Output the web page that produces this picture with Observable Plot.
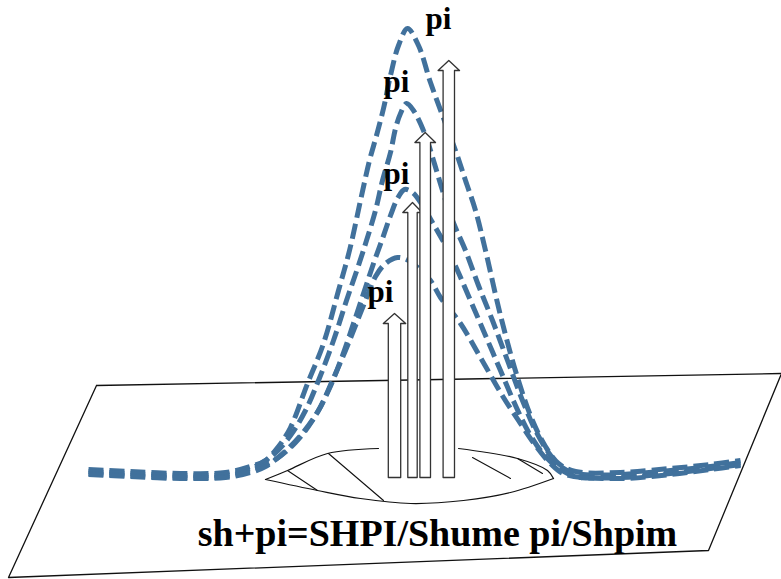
<!DOCTYPE html>
<html><head><meta charset="utf-8">
<script src="https://cdn.jsdelivr.net/npm/d3@7"></script>
<script src="https://cdn.jsdelivr.net/npm/@observablehq/plot@0.6"></script>
<style>html,body{margin:0;padding:0;background:#fff}</style>
</head><body><div id="chart"></div>
<script>
// Picture-space readings (x to the right, y downward)
const planeCorners = [[96,385],[781,373],[708,550],[8,577],[96,385]];

const lensTopLeft  = [[265,479],[287,470],[327,453],[378,448]];
const lensTopRight = [[458,448],[517,458],[547,470],[553,478]];
const lensBottom   = [[265,479],[317,490],[360,498],[410,503],[463,500],[510,492],[553,478]];
const lensSpokes   = [[[287,470],[317,490]], [[328,453],[383,500]], [[472,457],[510,478]], [[517,458],[542,473]]];

const curveA = [[88,469],[130,471],[180,473],[225,472],[250,466],[265,460],[278,446],[290,427],[307,383],[323,343],[338,290],[349,250],[360,200],[369,160],[376,135],[383,108],[390,75],[398,45],[407,28],[418,45],[430,82],[442,115],[455,150],[465,180],[475,210],[485,250],[500,315],[517,377],[532,420],[545,446],[558,463],[575,471],[620,472],[670,468],[710,464],[740,460]];
const curveB = [[88,471],[130,473],[180,475],[225,474],[250,468],[272,455],[290,435],[305,410],[318,380],[333,340],[346,300],[357,268],[366,240],[375,210],[382,180],[390,152],[395,128],[400,113],[406,103],[413,110],[425,135],[433,160],[442,190],[452,220],[465,250],[478,285],[492,320],[507,360],[522,400],[535,430],[548,452],[560,466],[575,473],[620,474],[670,470],[710,466],[740,462]];
const curveC = [[88,473],[130,475],[180,477],[225,476],[250,470],[275,459],[295,442],[312,420],[328,390],[342,355],[354,320],[364,290],[373,263],[382,238],[390,215],[397,198],[404,189],[412,192],[422,205],[432,222],[445,245],[457,270],[470,300],[485,335],[500,370],[515,405],[530,435],[545,456],[560,469],[575,476],[620,477],[670,473],[710,468],[740,464]];
const curveD = [[88,474],[130,476],[180,478],[225,477],[250,472],[265,466],[280,455],[300,435],[318,410],[332,380],[345,350],[355,325],[365,300],[375,276],[385,263],[397,257],[408,260],[418,268],[430,280],[440,297],[460,323],[480,357],[503,397],[520,423],[535,445],[550,463],[565,474],[620,478],[670,474],[710,469],[740,465]];

const arrowX   = [394, 412, 424.7, 448.3];
const arrowTop = [313, 202, 132, 60];
const arrowBase = 477;

const piLabelX = [438, 396, 396, 380];
const piLabelY = [19, 82, 174, 292];
const piText = "pi";
const caption = "sh+pi=SHPI/Shume pi/Shpim";
const captionXY = [437, 533];

// style constants
const shaftHalf = [6.2, 4.7, 5.3, 5.7];
const headWing = 5, headH = 10;

const toRows = (pts, id) => pts.map(([x, y]) => ({x, y, id}));
const curves = [curveA, curveB, curveC, curveD].flatMap((c, i) => toRows(c, "c" + i));
const lensArcs = [...toRows(lensTopLeft, "tl"), ...toRows(lensTopRight, "tr"), ...toRows(lensBottom, "b")];
const spokes = lensSpokes.flatMap((s, i) => toRows(s, "s" + i));
const arrows = arrowX.flatMap((cx, i) => {
  const t = arrowTop[i], hw = shaftHalf[i], hh = hw + headWing;
  return toRows([[cx-hw,arrowBase],[cx-hw,t+headH],[cx-hh,t+headH],[cx,t],[cx+hh,t+headH],[cx+hw,t+headH],[cx+hw,arrowBase],[cx-hw,arrowBase]], "a" + i);
});
const piLabels = piLabelX.map((x, i) => ({x, y: piLabelY[i], t: piText}));

const chart = Plot.plot({
  width: 781, height: 579,
  margin: 0,
  x: {domain: [0, 781], range: [0, 781], axis: null},
  y: {domain: [0, 579], range: [0, 579], axis: null},
  style: {background: "#fff"},
  marks: [
    Plot.line(toRows(planeCorners, "p"), {x: "x", y: "y", stroke: "#111", strokeWidth: 1.3}),
    Plot.line(lensArcs, {x: "x", y: "y", z: "id", curve: "catmull-rom", stroke: "#111", strokeWidth: 1.2}),
    Plot.line(spokes, {x: "x", y: "y", z: "id", stroke: "#111", strokeWidth: 1.1}),
    Plot.line(curves, {x: "x", y: "y", z: "id", curve: "catmull-rom", stroke: "#41719c", strokeWidth: 5, strokeDasharray: "15,6", strokeLinecap: "butt"}),
    Plot.line(arrows, {x: "x", y: "y", z: "id", fill: "white", stroke: "#333", strokeWidth: 1.3}),
    Plot.text(piLabels, {x: "x", y: "y", text: "t", fontSize: 31, fontWeight: "bold", fontFamily: "Liberation Serif", fill: "#000"}),
    Plot.text([caption], {x: () => captionXY[0], y: () => captionXY[1], text: d => d, fontSize: 38, fontWeight: "bold", fontFamily: "Liberation Serif", fill: "#000"})
  ]
});
document.getElementById("chart").appendChild(chart);
</script>
</body></html>
